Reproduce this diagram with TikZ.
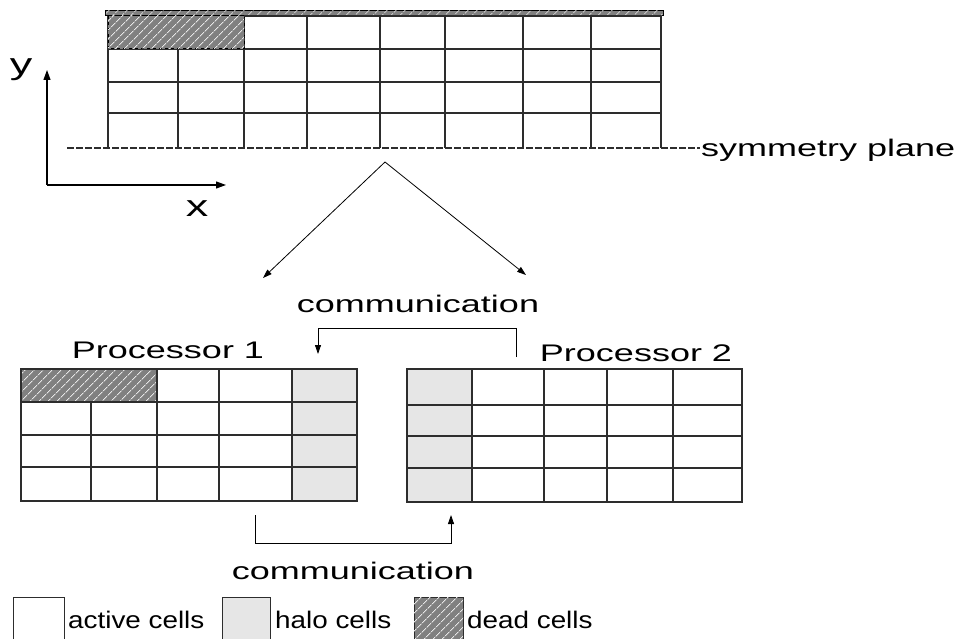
\documentclass[tikz,border=0pt]{standalone}
\usepackage{fontspec}
\newfontfamily\labelfont[FakeStretch=1.5]{Liberation Sans}
\newfontfamily\legendfont[FakeStretch=1.16]{Liberation Sans}
\usetikzlibrary{arrows.meta,patterns.meta}
\definecolor{DeadGray}{RGB}{128,128,128}
\definecolor{HaloGray}{RGB}{230,230,230}
\definecolor{GridGray}{RGB}{45,45,45}
\tikzset{
  gridline/.style={draw=GridGray,line width=1.3pt},
  deadcell/.style={fill=DeadGray,postaction={pattern={Lines[angle=45,distance=6.5pt,line width=0.8pt]},
    pattern color=white!80!DeadGray}},
  halocell/.style={fill=HaloGray},
  arrow/.style={-{Triangle[length=9pt,width=6pt]},line width=0.8pt},
  axis/.style={-{Triangle[length=10pt,width=7pt]},line width=1.1pt},
  txt/.style={font=\labelfont\fontsize{24}{28}\selectfont,inner sep=0pt},
  legendtxt/.style={font=\legendfont\fontsize{24}{28}\selectfont,inner sep=0pt,anchor=west},
  legendbox/.style={draw=GridGray,line width=1pt}
}

\begin{document}
\begin{tikzpicture}[x=1pt,y=-1pt]
  \useasboundingbox (0,0) rectangle (958,639);
  % whole domain
  \draw[deadcell,line width=1pt] (105,11) rectangle (663,16);
  \foreach \y in {49,82,113} \draw[gridline] (108,\y) -- (661,\y);
  \draw[gridline] (244,16) -- (661,16);
  \foreach \x in {108,244,307,380,445,523,591,661} \draw[gridline] (\x,16) -- (\x,148);
  \draw[gridline] (178,49) -- (178,148);
  \draw[deadcell,dashed,draw=black,line width=1pt] (108,16) rectangle (244,49);
  \draw[GridGray,line width=1.3pt,dash pattern=on 7pt off 2pt] (67,148) -- (700,148);
  \node[txt,anchor=west] (symm) at (701,150) {symmetry plane};
  % axes
  \coordinate (origin) at (47,185);
  \coordinate (yend) at (47,70);
  \coordinate (xend) at (226,185);
  \draw[axis] (origin) -- (yend);
  \draw[axis] (origin) -- (xend);
  \node[txt,font=\labelfont\fontsize{30}{34}\selectfont] (ylab) at (21,70) {y};
  \node[txt,font=\labelfont\fontsize{30}{34}\selectfont] (xlab) at (197,209) {x};
  % split
  \coordinate (apex) at (385,162);
  \coordinate (leftend) at (263,278);
  \coordinate (rightend) at (526,275);
  \draw[arrow] (apex) -- (leftend);
  \draw[arrow] (apex) -- (rightend);
  % processor 1
  \node[txt] (proc1) at (168,350) {Processor 1};
  \fill[halocell] (292,369) rectangle (357,501);
  \draw[deadcell] (21,369) rectangle (157,402);
  \foreach \y in {402,435,467} \draw[gridline] (21,\y) -- (357,\y);
  \foreach \x in {157,219,292} \draw[gridline] (\x,369) -- (\x,501);
  \draw[gridline] (91,402) -- (91,501);
  \draw[gridline] (21,369) rectangle (357,501);
  % processor 2
  \node[txt] (proc2) at (636,353) {Processor 2};
  \fill[halocell] (407,369) rectangle (472,502);
  \foreach \y in {405,436,468} \draw[gridline] (407,\y) -- (742,\y);
  \foreach \x in {472,544,607,673} \draw[gridline] (\x,369) -- (\x,502);
  \draw[gridline] (407,369) rectangle (742,502);
  % communication
  \node[txt] (commtop) at (418,304) {communication};
  \coordinate (p2out) at (516,357);
  \coordinate (p1in) at (318,354);
  \draw[arrow] (p2out) -- ++(0,-29) -| (p1in);
  \node[txt] (commbot) at (353,571) {communication};
  \coordinate (p1out) at (255,515);
  \coordinate (p2in) at (451,515);
  \draw[arrow] (p1out) -- ++(0,28) -| (p2in);
  % legend
  \draw[legendbox] (13,597) rectangle (64,645);
  \node[legendtxt] (activelab) at (68,620) {active cells};
  \draw[legendbox,halocell] (222,597) rectangle (270,645);
  \node[legendtxt] (halolab) at (275,620) {halo cells};
  \draw[legendbox,deadcell] (414,597) rectangle (463,645);
  \node[legendtxt] (deadlab) at (467,620) {dead cells};
\end{tikzpicture}
\end{document}
